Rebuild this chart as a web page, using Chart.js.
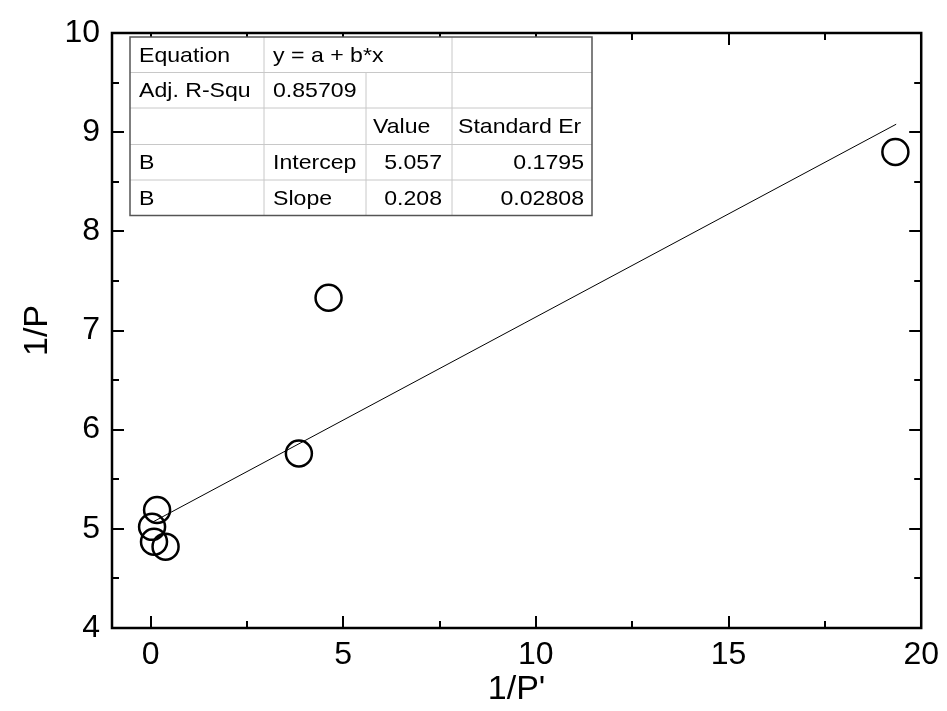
<!DOCTYPE html>
<html>
<head>
<meta charset="utf-8">
<script src="https://cdn.jsdelivr.net/npm/chart.js@4.4.1/dist/chart.umd.min.js"></script>
<style>
  html, body { margin: 0; padding: 0; background: #fff; }
  canvas { display: block; }
</style>
</head>
<body>
<canvas id="c" width="947" height="711"></canvas>
<script>
// measured points (1/P' vs 1/P)
const xVals = [19.33, 4.62, 3.85, 0.17, 0.04, 0.09, 0.39];
const yVals = [8.80, 7.33, 5.76, 5.19, 5.02, 4.87, 4.82];

// linear fit line end points
const fitX = [0.04, 19.35];
const fitY = [5.065, 9.08];

const xTicks = [0, 5, 10, 15, 20];
const xMinor = [2.5, 7.5, 12.5, 17.5];
const yTicks = [4, 5, 6, 7, 8, 9, 10];
const yMinor = [4.5, 5.5, 6.5, 7.5, 8.5, 9.5];

// fit results table
const tblCol1 = ["Equation", "Adj. R-Squ", "", "B", "B"];
const tblCol2 = ["y = a + b*x", "0.85709", "", "Intercep", "Slope"];
const tblCol3 = ["", "", "Value", "5.057", "0.208"];
const tblCol4 = ["", "", "Standard Er", "0.1795", "0.02808"];

const FONT = "'Liberation Sans', Arial, Helvetica, sans-serif";

// frame + inward ticks on all four sides, like Origin
const framePlugin = {
  id: "frame",
  afterDraw(chart) {
    const { ctx, chartArea: a, scales } = chart;
    const x = scales.x, y = scales.y;
    ctx.save();
    ctx.strokeStyle = "#000";
    ctx.lineCap = "butt";

    ctx.lineWidth = 2;
    function xt(vals, len) {
      vals.forEach((v) => {
        const px = Math.round(x.getPixelForValue(v));
        ctx.beginPath();
        ctx.moveTo(px, a.bottom); ctx.lineTo(px, a.bottom - len);
        ctx.moveTo(px, a.top); ctx.lineTo(px, a.top + len);
        ctx.stroke();
      });
    }
    function yt(vals, len) {
      vals.forEach((v) => {
        const py = Math.round(y.getPixelForValue(v));
        ctx.beginPath();
        ctx.moveTo(a.left, py); ctx.lineTo(a.left + len, py);
        ctx.moveTo(a.right, py); ctx.lineTo(a.right - len, py);
        ctx.stroke();
      });
    }
    xt(xTicks, 12); xt(xMinor, 7);
    yt(yTicks, 12); yt(yMinor, 7);

    ctx.lineWidth = 2.5;
    ctx.strokeRect(a.left, a.top, a.right - a.left, a.bottom - a.top);
    ctx.restore();
  },
};

// the fit parameter table, top-left of the plot
const tablePlugin = {
  id: "fitTable",
  afterDraw(chart) {
    const ctx = chart.ctx;
    const cols = [130, 264, 366, 452, 592];
    const rows = [37, 72.5, 108, 144.5, 180, 215.5];
    ctx.save();
    ctx.fillStyle = "#fff";
    ctx.fillRect(cols[0], rows[0], cols[4] - cols[0], rows[5] - rows[0]);

    ctx.strokeStyle = "#c8c8c8";
    ctx.lineWidth = 1;
    ctx.beginPath();
    for (let r = 1; r < rows.length - 1; r++) {
      ctx.moveTo(cols[0], rows[r]); ctx.lineTo(cols[4], rows[r]);
    }
    ctx.moveTo(cols[1], rows[0]); ctx.lineTo(cols[1], rows[5]);
    ctx.moveTo(cols[2], rows[1]); ctx.lineTo(cols[2], rows[5]);
    ctx.moveTo(cols[3], rows[0]); ctx.lineTo(cols[3], rows[5]);
    ctx.stroke();

    ctx.strokeStyle = "#555";
    ctx.lineWidth = 1.5;
    ctx.strokeRect(cols[0], rows[0], cols[4] - cols[0], rows[5] - rows[0]);

    ctx.fillStyle = "#000";
    ctx.font = "21px " + FONT;
    ctx.textBaseline = "middle";
    const put = (txt, px, py, right) => {
      if (!txt) return;
      ctx.save();
      ctx.translate(px, py);
      ctx.scale(1.1, 1);
      ctx.textAlign = right ? "right" : "left";
      ctx.fillText(txt, 0, 0);
      ctx.restore();
    };
    for (let r = 0; r < 5; r++) {
      const cy = (rows[r] + rows[r + 1]) / 2 + 1;
      put(tblCol1[r], cols[0] + 9, cy, false);
      put(tblCol2[r], cols[1] + 9, cy, false);
      if (r < 3) {
        put(tblCol3[r], cols[2] + 7, cy, false);
        put(tblCol4[r], cols[3] + 6, cy, false);
      } else {
        put(tblCol3[r], cols[3] - 10, cy, true);
        put(tblCol4[r], cols[4] - 8, cy, true);
      }
    }
    ctx.restore();
  },
};

const pts = xVals.map((v, i) => ({ x: v, y: yVals[i] }));
const fit = fitX.map((v, i) => ({ x: v, y: fitY[i] }));

new Chart(document.getElementById("c"), {
  type: "scatter",
  data: {
    datasets: [
      {
        label: "fit",
        data: fit,
        showLine: true,
        borderColor: "#000",
        borderWidth: 1,
        pointRadius: 0,
        fill: false,
      },
      {
        label: "1/P",
        data: pts,
        pointStyle: "circle",
        pointRadius: 13,
        pointBorderWidth: 2.5,
        pointBorderColor: "#000",
        pointBackgroundColor: "rgba(0,0,0,0)",
      },
    ],
  },
  options: {
    responsive: false,
    animation: false,
    devicePixelRatio: 1,
    layout: { padding: { top: 33, right: 24, left: 0, bottom: 0 } },
    plugins: { legend: { display: false }, tooltip: { enabled: false } },
    scales: {
      x: {
        type: "linear",
        min: -1,
        max: 20,
        afterBuildTicks: (s) => { s.ticks = xTicks.map((v) => ({ value: v })); },
        afterFit: (s) => { s.height = 83; },
        grid: { display: false, drawTicks: false },
        border: { display: false },
        ticks: { color: "#000", padding: 8, font: { family: FONT, size: 32 } },
        title: {
          display: true,
          text: "1/P'",
          color: "#000",
          padding: { top: 0, bottom: 1 },
          font: { family: FONT, size: 34 },
        },
      },
      y: {
        type: "linear",
        min: 4,
        max: 10,
        afterBuildTicks: (s) => { s.ticks = yTicks.map((v) => ({ value: v })); },
        afterFit: (s) => { s.width = 112; },
        grid: { display: false, drawTicks: false },
        border: { display: false },
        ticks: { color: "#000", padding: 12, font: { family: FONT, size: 32 } },
        title: {
          display: true,
          text: "1/P",
          color: "#000",
          padding: { top: 17, bottom: 0 },
          font: { family: FONT, size: 34 },
        },
      },
    },
  },
  plugins: [framePlugin, tablePlugin],
});
</script>
</body>
</html>
